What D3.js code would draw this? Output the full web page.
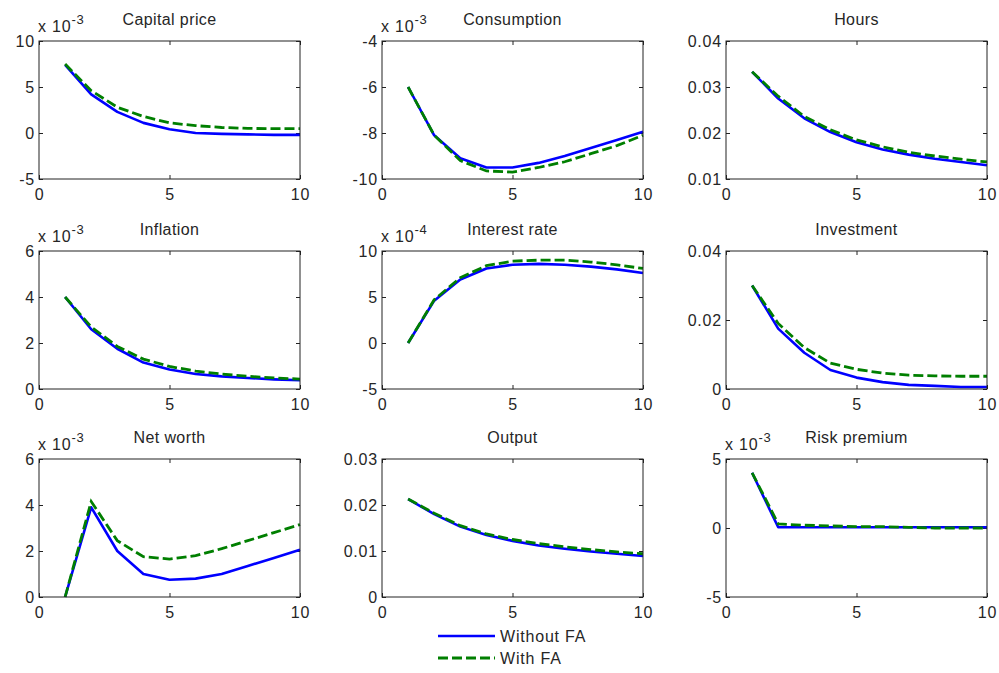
<!DOCTYPE html>
<html>
<head>
<meta charset="utf-8">
<script src="https://cdn.jsdelivr.net/npm/d3@7"></script>
<style>
  body { margin: 0; background: #fff; }
  svg { display: block; font-family: "Liberation Sans", Arial, sans-serif; }
  .tick-label { font-size: 16px; fill: #262626; letter-spacing: 0.8px; }
  .title { font-size: 16px; fill: #262626; letter-spacing: 0.4px; }
</style>
</head>
<body>
<svg id="chart" width="999" height="673"></svg>
<script>
// impulse responses, periods 1..10 (values shown in the units of each panel, i.e. after the x 10^k factor)
const periods = [1, 2, 3, 4, 5, 6, 7, 8, 9, 10];

const titles = ['Capital price', 'Consumption', 'Hours',
                'Inflation', 'Interest rate', 'Investment',
                'Net worth', 'Output', 'Risk premium'];
const exponents = [-3, -3, null, -3, -4, null, -3, null, -3];
const yDomains = [[-5, 10], [-10, -4], [0.01, 0.04], [0, 6], [-5, 10], [0, 0.04], [0, 6], [0, 0.03], [-5, 5]];
const yTicks = [
  [-5, 0, 5, 10], [-10, -8, -6, -4], [0.01, 0.02, 0.03, 0.04],
  [0, 2, 4, 6], [-5, 0, 5, 10], [0, 0.02, 0.04],
  [0, 2, 4, 6], [0, 0.01, 0.02, 0.03], [-5, 0, 5]
];
const xTicks = [0, 5, 10];

const withoutFA = [
  [7.4, 4.2, 2.3, 1.1, 0.4, 0.0, -0.1, -0.15, -0.2, -0.2],
  [-6.0, -8.1, -9.1, -9.5, -9.5, -9.3, -9.0, -8.65, -8.3, -7.95],
  [0.0333, 0.0275, 0.0232, 0.0202, 0.0180, 0.0164, 0.0153, 0.0144, 0.0137, 0.0130],
  [4.0, 2.6, 1.75, 1.15, 0.85, 0.65, 0.55, 0.48, 0.42, 0.38],
  [0.0, 4.6, 6.9, 8.1, 8.5, 8.6, 8.5, 8.3, 8.0, 7.6],
  [0.030, 0.0175, 0.0105, 0.0055, 0.0033, 0.0020, 0.0012, 0.0009, 0.0006, 0.0006],
  [0.0, 3.9, 2.0, 1.0, 0.75, 0.8, 1.0, 1.35, 1.7, 2.05],
  [0.0213, 0.0180, 0.0153, 0.0135, 0.0122, 0.0112, 0.0105, 0.0099, 0.0094, 0.0089],
  [4.0, 0.05, 0.05, 0.05, 0.05, 0.05, 0.05, 0.05, 0.05, 0.05]
];
const withFA = [
  [7.5, 4.6, 2.8, 1.8, 1.1, 0.8, 0.6, 0.5, 0.47, 0.47],
  [-6.0, -8.1, -9.2, -9.65, -9.7, -9.5, -9.25, -8.9, -8.55, -8.1],
  [0.0333, 0.0280, 0.0236, 0.0207, 0.0185, 0.0170, 0.0158, 0.0150, 0.0143, 0.0137],
  [4.0, 2.7, 1.85, 1.3, 0.98, 0.78, 0.65, 0.55, 0.48, 0.43],
  [0.0, 4.7, 7.1, 8.4, 8.9, 9.0, 9.0, 8.8, 8.5, 8.1],
  [0.030, 0.019, 0.012, 0.0075, 0.0057, 0.0046, 0.0040, 0.0038, 0.0037, 0.0037],
  [0.0, 4.15, 2.45, 1.75, 1.65, 1.8, 2.1, 2.45, 2.8, 3.15],
  [0.0213, 0.0182, 0.0155, 0.0137, 0.0125, 0.0116, 0.0109, 0.0103, 0.0098, 0.0094],
  [4.0, 0.3, 0.2, 0.15, 0.1, 0.1, 0.05, 0.0, 0.0, 0.0]
];

const seriesNames = ['Without FA', 'With FA'];
const BLUE = '#0000ff', GREEN = '#007f00';
const DASH = '10,4';

const colLeft = [39, 382, 726];
const rowTop = [41, 251, 459];
const boxW = 261, boxH = 138, tickLen = 4;

const svg = d3.select('#chart');

const fmt = v => (v === 0 ? '0' : String(+v.toFixed(4)));

titles.forEach((title, i) => {
  const col = i % 3, row = Math.floor(i / 3);
  const g = svg.append('g').attr('transform', `translate(${colLeft[col]},${rowTop[row]})`);

  const x = d3.scaleLinear().domain([0, 10]).range([0, boxW]);
  const y = d3.scaleLinear().domain(yDomains[i]).range([boxH, 0]);

  // ticks: inward on all four sides
  const axes = [
    d3.axisBottom(x).tickValues(xTicks).tickSizeInner(-tickLen).tickSizeOuter(0).tickFormat(fmt),
    d3.axisLeft(y).tickValues(yTicks[i]).tickSizeInner(-tickLen).tickSizeOuter(0).tickFormat(fmt),
    d3.axisTop(x).tickValues(xTicks).tickSizeInner(-tickLen).tickSizeOuter(0).tickFormat(''),
    d3.axisRight(y).tickValues(yTicks[i]).tickSizeInner(-tickLen).tickSizeOuter(0).tickFormat('')
  ];
  const offs = [[0, boxH], [0, 0], [0, 0], [boxW, 0]];
  axes.forEach((ax, k) => {
    const a = g.append('g').attr('transform', `translate(${offs[k][0]},${offs[k][1]})`).call(ax);
    a.select('.domain').remove();
    a.selectAll('.tick line').attr('stroke', '#222');
    a.selectAll('.tick text').attr('class', 'tick-label').attr('fill', null).attr('font-size', null).attr('font-family', null);
    if (k === 0) a.selectAll('.tick text').attr('y', 10);
    if (k === 1) a.selectAll('.tick text').attr('x', -4).attr('dy', '0.36em');
  });

  const line = d3.line().x((d, j) => x(periods[j])).y(d => y(d));

  g.append('path').datum(withoutFA[i])
    .attr('d', line).attr('fill', 'none')
    .attr('stroke', BLUE).attr('stroke-width', 2.6).attr('stroke-linejoin', 'round');
  g.append('path').datum(withFA[i])
    .attr('d', line).attr('fill', 'none')
    .attr('stroke', GREEN).attr('stroke-width', 2.8).attr('stroke-dasharray', DASH);

  g.append('rect').attr('width', boxW).attr('height', boxH)
    .attr('fill', 'none').attr('stroke', '#222').attr('stroke-width', 1);

  g.append('text').attr('class', 'title')
    .attr('x', boxW / 2).attr('y', -16).attr('text-anchor', 'middle').text(title);

  if (exponents[i] !== null) {
    const t = g.append('text').attr('class', 'tick-label').attr('x', -1).attr('y', -9);
    t.append('tspan').attr('font-size', 16).text('x 10');
    t.append('tspan').attr('font-size', 13).attr('dy', -8).text(exponents[i]);
  }
});

// legend below the middle bottom panel
const legend = svg.append('g').attr('transform', 'translate(438,636)');
seriesNames.forEach((name, k) => {
  const lg = legend.append('g').attr('transform', `translate(0,${k * 22})`);
  lg.append('line').attr('x1', 0).attr('x2', 57)
    .attr('stroke', k === 0 ? BLUE : GREEN).attr('stroke-width', k === 0 ? 2.6 : 2.8)
    .attr('stroke-dasharray', k === 0 ? null : DASH);
  lg.append('text').attr('class', 'tick-label').attr('x', 62).attr('dy', '0.36em').text(name);
});
</script>
</body>
</html>
